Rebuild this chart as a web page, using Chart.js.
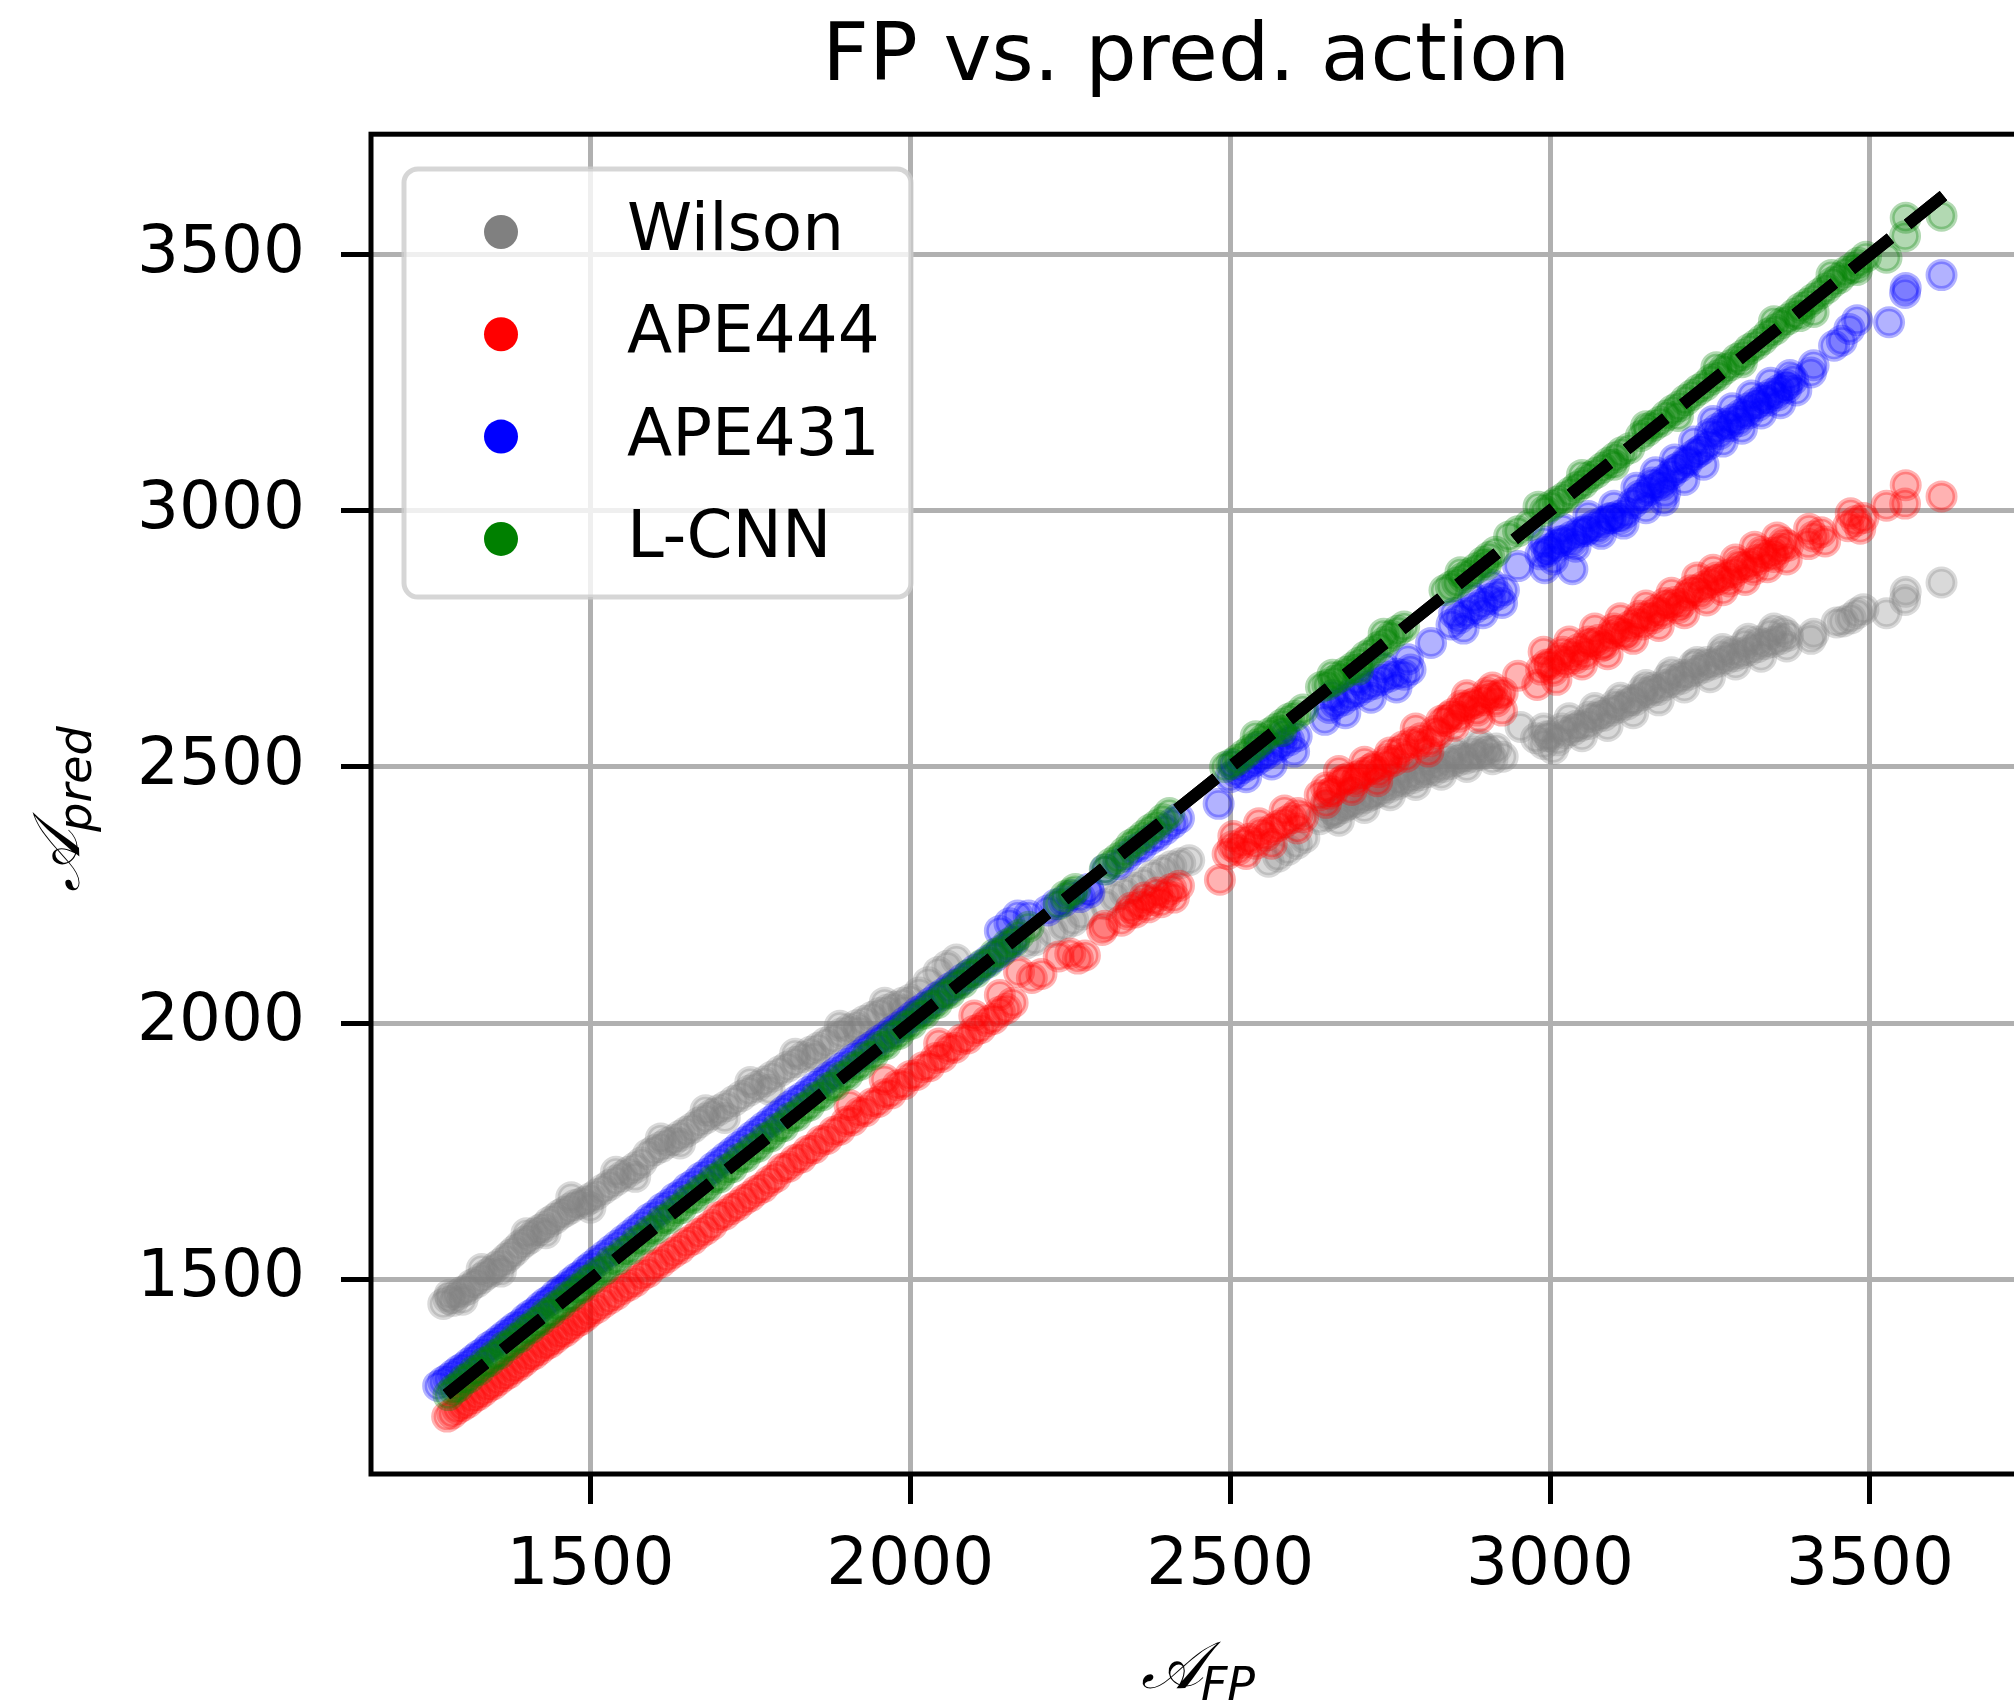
<!DOCTYPE html>
<html>
<head>
<meta charset="utf-8">
<script src="https://cdn.jsdelivr.net/npm/chart.js@4.4.0/dist/chart.umd.min.js"></script>
<style>
  html, body { margin: 0; padding: 0; background: #fff; overflow: hidden; }
  #wrap { width: 2040px; height: 1702px; }
</style>
</head>
<body>
<div id="wrap"><canvas id="chart" width="2040" height="1702"></canvas></div>
<script>
// FP vs. pred. action -- scatter of predicted action against FP action

const seriesNames = ['Wilson', 'APE444', 'APE431', 'L-CNN'];
const seriesRgb = ['128,128,128', '255,0,0', '0,0,255', '0,128,0'];

const xTicks = [1500, 2000, 2500, 3000, 3500];
const yTicks = [1500, 2000, 2500, 3000, 3500];

// reference line y = x
const diagonal = [[1275, 1275], [3615, 3615]];

const wilson = [
  [1270,1452],[1278,1462],[1285,1458],[1292,1470],[1300,1476],[1308,1480],[1315,1490],[1322,1494],[1330,1502],[1338,1510],
  [1345,1515],[1352,1524],[1360,1531],[1368,1540],[1375,1548],[1382,1556],[1390,1566],[1398,1574],[1405,1580],[1413,1590],
  [1420,1596],[1428,1602],[1436,1612],[1444,1618],[1452,1626],[1460,1632],[1468,1638],[1476,1645],[1484,1648],[1492,1652],
  [1500,1658],[1510,1666],[1520,1676],[1530,1684],[1540,1693],[1550,1701],[1560,1710],[1570,1718],[1580,1728],[1590,1744],
  [1600,1752],[1610,1758],[1620,1766],[1630,1772],[1640,1780],[1650,1788],[1660,1796],[1670,1806],[1680,1814],[1690,1822],
  [1700,1830],[1712,1838],[1724,1848],[1736,1858],[1748,1868],[1760,1876],[1772,1886],[1784,1896],[1796,1906],[1808,1915],
  [1820,1924],[1832,1934],[1844,1944],[1856,1952],[1868,1962],[1880,1970],[1892,1980],[1904,1988],[1916,1996],[1928,2004],
  [1940,2012],[1952,2020],[1964,2026],[1976,2032],[1988,2040],[2000,2046],[2014,2060],[2028,2080],[2044,2100],[2058,2112],
  [2072,2124],
  [1280,1470],[1300,1460],[1330,1520],[1360,1515],[1400,1590],[1430,1590],[1470,1660],[1500,1640],[1540,1710],[1570,1700],
  [1610,1775],[1640,1765],[1680,1830],[1710,1815],[1750,1885],[1780,1870],[1820,1940],[1850,1935],[1890,1995],[1920,1985],
  [1960,2040],[1990,2025],
  [2180,2155],[2195,2162],[2222,2178],[2240,2190],[2255,2200],[2268,2212],[2305,2232],[2320,2246],[2335,2255],[2350,2264],
  [2365,2274],[2380,2288],[2395,2298],[2408,2306],[2422,2312],[2436,2318],
  [2560,2315],[2575,2325],[2590,2338],[2604,2350],[2616,2362],
  [2640,2398],[2652,2405],[2664,2412],[2676,2420],[2688,2428],[2700,2432],[2712,2440],[2724,2448],[2736,2452],[2748,2460],
  [2760,2466],[2772,2472],[2784,2478],[2796,2484],[2808,2490],[2820,2494],[2832,2500],[2844,2506],[2856,2512],[2868,2516],
  [2880,2520],[2892,2524],[2904,2530],[2916,2536],[2926,2520],
  [2650,2425],[2670,2395],[2690,2450],[2710,2420],[2730,2475],[2750,2445],[2770,2495],[2790,2465],[2810,2515],[2830,2485],
  [2850,2530],[2870,2500],[2890,2545],[2910,2515],
  [2660,2410],[2680,2425],[2700,2440],[2720,2445],[2740,2465],[2760,2475],[2780,2485],[2800,2495],[2820,2505],[2840,2515],
  [2860,2520],[2880,2530],[2900,2535],
  [2954,2578],[2978,2556],[2990,2545],[3000,2560],[3012,2552],[3024,2566],[3036,2572],[3048,2580],[3060,2584],[3072,2596],
  [3084,2600],[3096,2610],[3108,2616],[3120,2622],[3132,2630],[3144,2640],[3156,2646],[3168,2650],[3180,2660],[3192,2666],
  [3204,2672],[3216,2680],[3228,2688],[3240,2694],[3252,2700],[3264,2706],[3276,2712],[3288,2716],[3300,2722],[3312,2728],
  [3324,2734],[3336,2740],[3348,2744],[3360,2750],[3372,2756],[3408,2750],[3412,2760],[3448,2782],[3458,2784],[3470,2790],
  [3480,2800],[3490,2808],[3526,2800],[3555,2826],[3556,2842],[3612,2860],
  [2990,2575],[3005,2535],[3030,2595],[3050,2560],[3070,2615],[3090,2580],[3110,2635],[3130,2605],[3150,2660],[3170,2630],
  [3190,2685],[3210,2655],[3230,2705],[3250,2675],[3270,2730],[3290,2700],[3310,2750],[3330,2715],[3350,2770],[3370,2735],
  [2995,2560],[3018,2575],[3040,2580],[3062,2598],[3080,2605],[3102,2622],[3125,2630],[3145,2650],[3162,2655],[3185,2675],
  [3205,2680],[3225,2700],[3245,2705],[3268,2720],[3285,2725],[3305,2740],[3325,2745],[3345,2760],[3365,2765]
];

const ape444 = [
  [1276,1232],[1284,1238],[1292,1247],[1300,1253],[1308,1259],[1316,1268],[1324,1274],[1332,1281],[1340,1290],[1348,1295],
  [1356,1303],[1364,1311],[1372,1317],[1380,1326],[1388,1332],[1396,1340],[1404,1349],[1412,1354],[1420,1362],[1428,1371],
  [1436,1376],[1444,1384],[1452,1393],[1460,1398],[1468,1406],[1476,1415],[1484,1420],[1492,1428],[1500,1437],[1510,1444],
  [1520,1454],[1530,1462],[1540,1470],[1550,1481],[1560,1488],[1570,1496],[1580,1507],[1590,1514],[1600,1527],[1610,1533],
  [1620,1543],[1630,1552],[1640,1560],[1650,1571],[1660,1578],[1670,1589],[1680,1597],[1690,1606],[1700,1621],[1710,1626],
  [1720,1637],[1730,1644],[1740,1655],[1750,1662],[1760,1673],[1770,1680],[1780,1692],[1790,1700],[1800,1716],[1810,1720],
  [1820,1733],[1830,1738],[1840,1751],[1850,1756],[1860,1770],[1870,1774],[1880,1788],[1890,1792],[1900,1808],[1910,1810],
  [1920,1825],[1930,1828],[1940,1843],[1950,1846],[1960,1861],[1970,1863],[1980,1879],[1990,1881],[2000,1897],[2010,1899],
  [2020,1914],[2030,1916],[2040,1932],[2050,1934],[2060,1950],[2070,1952],[2080,1968],[2090,1970],[2100,1985],[2110,1990],
  [2120,2004],[2130,2008],[2140,2022],[2150,2028],[2160,2040],
  [1905,1840],[1960,1890],[2045,1960],[2100,2015],[2140,2055],
  [2170,2100],[2190,2088],[2205,2096],[2232,2130],[2250,2136],[2262,2126],[2273,2132],[2300,2182],[2304,2190],
  [2330,2200],[2340,2212],[2345,2225],[2352,2216],[2360,2232],[2366,2245],[2372,2226],[2380,2240],[2386,2255],[2392,2236],
  [2400,2250],[2408,2262],[2412,2245],[2420,2268],[2484,2280],
  [2496,2330],[2504,2345],[2512,2338],[2520,2352],[2530,2360],[2540,2350],[2548,2372],[2556,2366],[2565,2378],[2575,2385],
  [2585,2392],[2596,2400],[2606,2410],[2614,2402],
  [2505,2365],[2525,2330],[2545,2390],[2565,2350],[2585,2415],[2605,2380],
  [2640,2445],[2650,2460],[2660,2452],[2672,2470],[2684,2478],[2696,2472],[2708,2488],[2720,2496],[2732,2490],[2744,2505],
  [2756,2512],[2770,2540],[2784,2548],[2798,2556],[2812,2550],[2826,2566],[2838,2590],[2848,2604],[2858,2598],[2866,2614],
  [2876,2622],[2886,2610],[2896,2630],[2906,2638],[2916,2628],[2926,2645],[2950,2678],
  [2650,2430],[2670,2492],[2690,2455],[2710,2510],[2730,2472],[2750,2528],[2775,2520],[2790,2575],[2810,2530],[2830,2590],
  [2850,2580],[2870,2640],[2890,2595],[2910,2655],[2925,2610],
  [2655,2448],[2678,2475],[2700,2482],[2725,2500],[2745,2515],[2765,2530],[2795,2545],[2820,2570],[2842,2598],[2862,2620],
  [2882,2625],[2902,2645],[2920,2640],
  [2980,2660],[2986,2690],[2995,2700],[3005,2688],[3015,2712],[3025,2705],[3035,2720],[3045,2730],[3055,2720],[3065,2740],
  [3075,2748],[3085,2738],[3095,2756],[3105,2766],[3115,2760],[3125,2775],[3135,2784],[3145,2778],[3155,2795],[3165,2806],
  [3175,2800],[3185,2815],[3195,2822],[3205,2818],[3215,2835],[3228,2845],[3240,2852],[3252,2860],[3264,2866],[3276,2874],
  [3288,2880],[3300,2890],[3312,2896],[3324,2904],[3336,2912],[3348,2918],[3360,2926],[3372,2932],[3404,2935],[3412,2950],
  [3424,2958],[3466,2970],[3478,2980],[3490,2986],[3526,3010],[3555,3014],[3556,3050],[3612,3028],
  [2990,2725],[3010,2670],[3030,2745],[3050,2700],[3070,2770],[3090,2720],[3110,2790],[3130,2750],[3150,2815],[3170,2775],
  [3190,2840],[3210,2800],[3230,2870],[3245,2825],[3255,2885],[3270,2845],[3290,2905],[3305,2865],[3320,2930],[3340,2890],
  [3355,2948],[3370,2905],[3405,2965],[3430,2940],[3470,2995],[3485,2965],
  [3000,2700],[3020,2725],[3040,2712],[3060,2745],[3080,2735],[3100,2770],[3120,2758],[3140,2795],[3160,2790],[3180,2820],
  [3200,2810],[3220,2845],[3235,2838],[3260,2870],[3280,2862],[3295,2895],[3318,2885],[3330,2920],[3350,2910],[3365,2938]
];

const ape431 = [
  [1262,1292],[1270,1300],[1278,1306],[1286,1314],[1294,1322],[1302,1328],[1310,1336],[1318,1344],[1326,1352],[1334,1358],
  [1342,1368],[1350,1374],[1358,1382],[1366,1390],[1374,1398],[1382,1406],[1390,1412],[1398,1422],[1406,1430],[1414,1436],
  [1422,1446],[1430,1454],[1438,1460],[1446,1470],[1454,1478],[1462,1484],[1470,1494],[1478,1502],[1486,1508],[1494,1518],
  [1502,1526],[1512,1536],[1522,1546],[1532,1556],[1542,1566],[1552,1576],[1562,1586],[1572,1596],[1582,1606],[1592,1618],
  [1602,1626],[1612,1638],[1622,1646],[1632,1658],[1642,1666],[1652,1678],[1662,1686],[1672,1698],[1682,1706],[1692,1718],
  [1702,1728],[1712,1738],[1722,1748],[1732,1758],[1742,1768],[1752,1778],[1762,1788],[1772,1798],[1782,1808],[1792,1818],
  [1802,1828],[1812,1838],[1822,1848],[1832,1856],[1842,1866],[1852,1876],[1862,1884],[1872,1894],[1882,1902],[1892,1912],
  [1902,1920],[1912,1930],[1922,1938],[1932,1948],[1942,1956],[1952,1966],[1962,1974],[1972,1984],[1982,1992],[1992,2002],
  [2002,2012],[2012,2022],[2022,2030],[2032,2040],[2042,2050],[2052,2058],[2062,2068],[2072,2076],[2082,2086],[2092,2094],
  [2102,2104],[2112,2112],[2122,2122],[2132,2130],[2142,2142],[2152,2150],[2162,2162],
  [2140,2180],[2155,2195],[2168,2210],[2185,2210],[2215,2220],[2228,2232],[2240,2238],[2252,2250],[2265,2246],[2278,2262],
  [2280,2255],[2305,2300],[2325,2310],[2338,2325],[2350,2338],[2362,2345],[2374,2358],[2386,2366],[2398,2378],[2410,2390],
  [2420,2400],[2482,2428],
  [2500,2480],[2510,2490],[2520,2498],[2530,2505],[2540,2512],[2550,2520],[2560,2528],[2570,2535],[2580,2544],[2592,2552],
  [2604,2560],[2648,2592],
  [2505,2505],[2525,2480],[2545,2540],[2565,2505],[2585,2565],[2600,2530],
  [2655,2615],[2665,2624],[2676,2630],[2688,2640],[2700,2648],[2712,2656],[2724,2662],[2736,2670],[2748,2676],[2760,2682],
  [2772,2680],[2782,2690],[2814,2742],
  [2660,2640],[2680,2605],[2700,2670],[2720,2635],[2740,2695],[2760,2655],[2778,2710],
  [2846,2778],[2858,2790],[2870,2800],[2882,2810],[2894,2818],[2906,2828],[2918,2836],[2928,2845],[2950,2892],[2992,2888],
  [3035,2886],
  [2850,2800],[2865,2770],[2880,2830],[2895,2800],[2910,2855],[2925,2820],
  [2985,2915],[2998,2925],[3010,2932],[3022,2942],[3034,2950],[3046,2958],[3058,2964],[3070,2972],[3082,2978],[3094,2986],
  [3106,2990],[3118,2996],[3178,3020],
  [2990,2940],[3005,2905],[3020,2965],[3040,2930],[3060,2990],[3080,2955],[3100,3010],[3115,2975],
  [2995,2920],[3015,2940],[3035,2940],[3055,2960],[3075,2965],[3095,2985],[3110,2985],
  [3130,3015],[3142,3025],[3154,3040],[3166,3050],[3178,3060],[3190,3072],[3202,3085],[3214,3098],[3226,3110],[3238,3120],
  [3250,3150],[3262,3160],[3274,3170],[3286,3178],[3298,3188],[3310,3200],[3322,3210],[3334,3220],[3346,3228],[3358,3236],
  [3370,3246],[3380,3256],[3408,3270],[3412,3284],[3444,3322],[3456,3332],[3468,3355],[3480,3372],[3530,3368],[3555,3425],
  [3556,3435],[3612,3460],
  [3135,3045],[3150,3005],[3165,3075],[3180,3035],[3195,3100],[3210,3060],[3225,3135],[3240,3090],[3255,3175],[3270,3135],
  [3285,3200],[3300,3160],[3315,3225],[3330,3190],[3345,3250],[3360,3210],[3375,3265],[3385,3235],
  [3140,3030],[3160,3055],[3175,3050],[3195,3080],[3215,3095],[3232,3115],[3248,3130],[3265,3150],[3280,3165],[3295,3175],
  [3310,3190],[3325,3205],[3340,3215],[3355,3225],[3370,3240]
];

const lcnn = [
  [1278,1274],[1286,1285],[1294,1291],[1302,1304],[1310,1308],[1318,1321],[1326,1323],[1334,1337],[1342,1340],[1350,1352],
  [1358,1355],[1366,1369],[1374,1372],[1382,1384],[1390,1387],[1398,1401],[1406,1404],[1414,1415],[1422,1420],[1430,1433],
  [1438,1435],[1446,1448],[1454,1451],[1462,1465],[1470,1467],[1478,1480],[1486,1483],[1494,1497],[1502,1500],[1512,1514],
  [1522,1519],[1532,1535],[1542,1539],[1552,1554],[1562,1559],[1572,1575],[1582,1579],[1592,1594],[1602,1599],[1612,1615],
  [1622,1619],[1632,1634],[1642,1639],[1652,1655],[1662,1659],[1672,1674],[1682,1679],[1692,1695],[1702,1699],[1712,1714],
  [1722,1719],[1732,1735],[1742,1739],[1752,1754],[1762,1759],[1772,1775],[1782,1779],[1792,1794],[1802,1799],[1812,1815],
  [1822,1819],[1832,1834],[1842,1839],[1852,1855],[1862,1859],[1872,1874],[1882,1879],[1892,1895],[1902,1899],[1912,1914],
  [1922,1919],[1932,1935],[1942,1939],[1952,1954],[1962,1959],[1972,1975],[1982,1979],[1992,1994],[2002,1999],[2012,2015],
  [2022,2019],[2032,2034],[2042,2039],[2052,2055],[2062,2059],[2072,2074],[2082,2079],[2092,2095],[2102,2099],[2112,2114],
  [2122,2119],[2132,2135],[2142,2139],[2152,2154],[2162,2159],[2170,2172],
  [2185,2188],[2232,2232],[2242,2248],[2252,2254],[2258,2262],[2304,2300],[2314,2312],[2325,2322],[2335,2334],[2345,2348],
  [2355,2356],[2365,2366],[2375,2378],[2385,2386],[2395,2398],[2405,2410],
  [2492,2500],[2502,2506],[2512,2514],[2522,2524],[2532,2534],[2542,2544],[2552,2554],[2562,2566],[2572,2574],[2582,2584],
  [2592,2594],[2602,2600],[2614,2612],[2540,2560],[2580,2570],
  [2642,2656],[2652,2660],[2662,2668],[2672,2676],[2682,2686],[2692,2694],[2702,2704],[2712,2716],[2722,2724],[2732,2734],
  [2742,2744],[2752,2756],[2762,2766],[2772,2774],[2660,2680],[2700,2690],[2740,2760],
  [2835,2845],[2845,2852],[2855,2860],[2865,2870],[2875,2878],[2885,2888],[2895,2900],[2905,2910],[2915,2920],[2936,2950],
  [2950,2960],[2968,2972],[2860,2880],[2900,2895],
  [2982,3008],[2992,3000],[3002,3010],[3012,3018],[3022,3026],[3032,3036],[3042,3046],[3052,3054],[3062,3066],[3072,3074],
  [3082,3084],[3092,3094],[3102,3104],[3112,3114],[3124,3122],[3050,3070],[3100,3090],
  [3142,3146],[3152,3156],[3162,3166],[3172,3174],[3182,3186],[3192,3196],[3202,3204],[3212,3216],[3222,3226],[3232,3236],
  [3242,3244],[3252,3256],[3262,3264],[3272,3276],[3282,3284],[3292,3296],[3302,3304],[3312,3316],[3322,3324],[3332,3334],
  [3342,3346],[3352,3354],[3362,3366],[3372,3374],[3382,3384],[3392,3396],[3402,3404],[3412,3388],[3412,3414],[3422,3424],
  [3432,3434],[3442,3446],[3452,3454],[3462,3466],[3472,3474],[3482,3484],[3494,3496],[3526,3494],[3555,3536],[3556,3572],
  [3612,3576],
  [3150,3165],[3200,3185],[3260,3280],[3300,3290],[3350,3370],[3390,3380],[3440,3460],[3480,3470]
];

const seriesData = [wilson, ape444, ape431, lcnn];
const toPts = arr => arr.map(p => ({ x: p[0], y: p[1] }));

const tickFont = { family: '"DejaVu Sans"', size: 66 };

function scatterSet(i) {
  const c = seriesRgb[i];
  return {
    type: 'scatter',
    label: seriesNames[i],
    data: toPts(seriesData[i]),
    backgroundColor: 'rgba(' + c + ',0.3)',
    borderColor: 'rgba(' + c + ',0.3)',
    borderWidth: 5,
    pointRadius: 13.5,
    order: 4 - i
  };
}

// draw the y=x line again above grid, then frame, legend, axis labels
const extras = {
  id: 'extras',
  afterDraw(chart) {
    const ctx = chart.ctx;
    const a = chart.chartArea;

    const lineIdx = chart.data.datasets.findIndex(d => d.type === 'line');
    ctx.save();
    ctx.beginPath();
    ctx.rect(a.left, a.top, a.right - a.left, a.bottom - a.top);
    ctx.clip();
    chart.getDatasetMeta(lineIdx).controller.draw();
    ctx.restore();

    // spines
    ctx.save();
    ctx.strokeStyle = '#000';
    ctx.lineWidth = 5;
    ctx.strokeRect(a.left, a.top, a.right - a.left, a.bottom - a.top);
    ctx.restore();

    // legend box
    ctx.save();
    const bx = 404, by = 169, bw = 507, bh = 428, r = 14;
    ctx.beginPath();
    ctx.moveTo(bx + r, by);
    ctx.arcTo(bx + bw, by, bx + bw, by + bh, r);
    ctx.arcTo(bx + bw, by + bh, bx, by + bh, r);
    ctx.arcTo(bx, by + bh, bx, by, r);
    ctx.arcTo(bx, by, bx + bw, by, r);
    ctx.closePath();
    ctx.fillStyle = 'rgba(255,255,255,0.8)';
    ctx.fill();
    ctx.strokeStyle = 'rgba(204,204,204,0.8)';
    ctx.lineWidth = 5;
    ctx.stroke();
    ctx.font = '66px "DejaVu Sans"';
    ctx.textBaseline = 'alphabetic';
    ctx.textAlign = 'left';
    seriesNames.forEach((name, i) => {
      const y = 232 + i * 102.3;
      ctx.beginPath();
      ctx.arc(501, y, 17, 0, Math.PI * 2);
      ctx.fillStyle = 'rgb(' + seriesRgb[i] + ')';
      ctx.fill();
      ctx.fillStyle = '#000';
      ctx.fillText(name, 627, y + 18);
    });
    ctx.restore();

    // axis labels, A with italic subscript
    mathLabel(ctx, '\u{1D49C}', 'FP', 1199, 1670, 0);
    mathLabel(ctx, '\u{1D49C}', 'pred', 61, 808, -Math.PI / 2);
  }
};

function mathLabel(ctx, main, sub, cx, cy, rot) {
  ctx.save();
  ctx.translate(cx, cy);
  ctx.rotate(rot);
  ctx.fillStyle = '#000';
  ctx.textAlign = 'left';
  ctx.textBaseline = 'alphabetic';
  const mainFont = 'italic 66px "DejaVu Serif", "DejaVu Sans"';
  const subFont = 'italic 46px "DejaVu Sans"';
  ctx.font = mainFont;
  const w1 = ctx.measureText(main).width;
  ctx.font = subFont;
  const w2 = ctx.measureText(sub).width;
  const x0 = -(w1 + w2) / 2;
  ctx.font = mainFont;
  ctx.fillText(main, x0, 18);
  ctx.font = subFont;
  ctx.fillText(sub, x0 + w1 - 2, 30);
  ctx.restore();
}

new Chart(document.getElementById('chart'), {
  type: 'scatter',
  data: {
    datasets: [
      {
        type: 'line',
        label: 'y = x',
        data: toPts(diagonal),
        borderColor: '#000',
        borderWidth: 12,
        borderDash: [50, 22],
        pointRadius: 0,
        fill: false,
        order: 0
      },
      scatterSet(0), scatterSet(1), scatterSet(2), scatterSet(3)
    ]
  },
  options: {
    responsive: false,
    animation: false,
    devicePixelRatio: 1,
    events: [],
    layout: { padding: { left: 0, right: 15, top: 0, bottom: 0 } },
    plugins: {
      legend: { display: false },
      tooltip: { enabled: false },
      title: {
        display: true,
        text: 'FP vs. pred. action',
        fullSize: false,
        color: '#000',
        font: { family: '"DejaVu Sans"', size: 81, weight: 'normal' },
        padding: { top: 10, bottom: 27 }
      }
    },
    scales: {
      x: {
        type: 'linear',
        min: 1157, max: 3737,
        z: 1,
        afterBuildTicks: s => { s.ticks = xTicks.map(v => ({ value: v })); },
        afterFit: s => { s.height = 228; },
        ticks: { color: '#000', font: tickFont, padding: 23, maxRotation: 0, callback: v => String(v) },
        grid: { color: '#b0b0b0', lineWidth: 5, tickLength: 30, tickColor: '#000', tickWidth: 5 },
        border: { display: false }
      },
      y: {
        type: 'linear',
        min: 1120, max: 3735,
        z: 1,
        afterBuildTicks: s => { s.ticks = yTicks.map(v => ({ value: v })); },
        afterFit: s => { s.width = 371; },
        ticks: { color: '#000', font: tickFont, padding: 36, callback: v => String(v) },
        grid: { color: '#b0b0b0', lineWidth: 5, tickLength: 30, tickColor: '#000', tickWidth: 5 },
        border: { display: false }
      }
    }
  },
  plugins: [extras]
});
</script>
</body>
</html>
